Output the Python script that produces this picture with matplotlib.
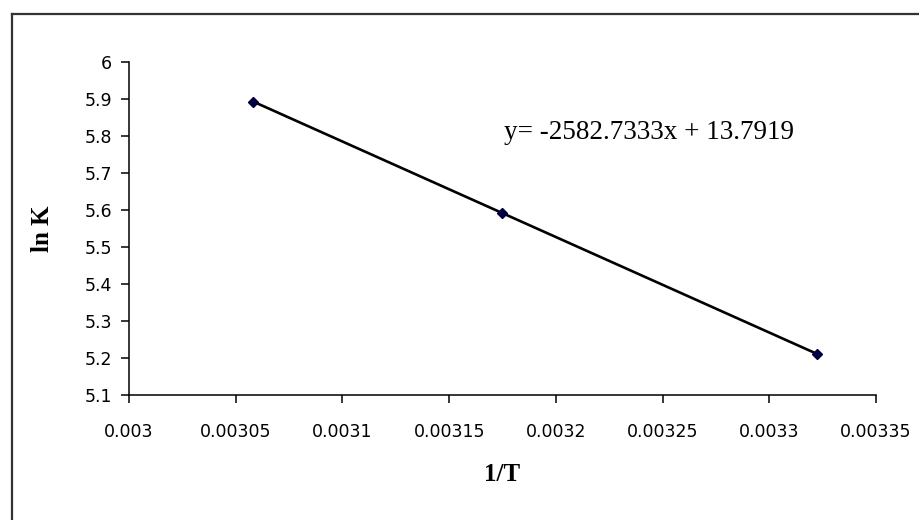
import matplotlib.pyplot as plt
from matplotlib.lines import Line2D
import numpy as np

# data: 1/T and ln K
invT = [0.0030581, 0.0031746, 0.0033223]
lnK = [5.893, 5.593, 5.211]
xticks = [0.003, 0.00305, 0.0031, 0.00315, 0.0032, 0.00325, 0.0033, 0.00335]
xticklabels = ['0.003', '0.00305', '0.0031', '0.00315', '0.0032', '0.00325', '0.0033', '0.00335']
yticks = [5.1, 5.2, 5.3, 5.4, 5.5, 5.6, 5.7, 5.8, 5.9, 6.0]
yticklabels = ['5.1', '5.2', '5.3', '5.4', '5.5', '5.6', '5.7', '5.8', '5.9', '6']
eq_text = 'y= -2582.7333x + 13.7919'

fig = plt.figure(figsize=(9.2, 5.2), dpi=100)
fig.patch.set_facecolor('white')

# outer chart border (top and left visible, rest runs off the picture)
fig.add_artist(Line2D([12/920, 12/920], [0, 1 - 14/520], transform=fig.transFigure,
                      color='#333333', lw=1.6))
fig.add_artist(Line2D([12/920, 1], [1 - 14/520, 1 - 14/520], transform=fig.transFigure,
                      color='#333333', lw=1.6))

ax = fig.add_axes([129/920, 125/520, 747/920, 333/520])

# trend line from linear fit
k, b = np.polyfit(invT, lnK, 1)
xs = np.array([min(invT), max(invT)])
ax.plot(xs, k*xs + b, color='black', lw=1.9, zorder=2)
ax.plot(invT, lnK, linestyle='none', marker='D', markersize=5.5,
        color='#000040', zorder=3)

ax.set_xlim(0.003, 0.00335)
ax.set_ylim(5.1, 6.0)
ax.set_xticks(xticks)
ax.set_xticklabels(xticklabels, fontsize=12.5, family='DejaVu Sans')
ax.set_yticks(yticks)
ax.set_yticklabels(yticklabels, fontsize=12.5, family='DejaVu Sans')
ax.tick_params(direction='out', length=6, width=1.1, color='black', pad=14)
ax.tick_params(axis='y', pad=6)

for s in ['top', 'right']:
    ax.spines[s].set_visible(False)
for s in ['left', 'bottom']:
    ax.spines[s].set_linewidth(1.1)

ax.set_xlabel('1/T', fontsize=18, fontweight='bold', family='Liberation Serif', labelpad=16)
ax.set_ylabel('ln K', fontsize=18, fontweight='bold', family='Liberation Serif', labelpad=22)

ax.text(0.0031755, 5.81, eq_text, fontsize=19.5, family='Liberation Serif',
        ha='left', va='center')

fig.savefig('out.png', dpi=100)
